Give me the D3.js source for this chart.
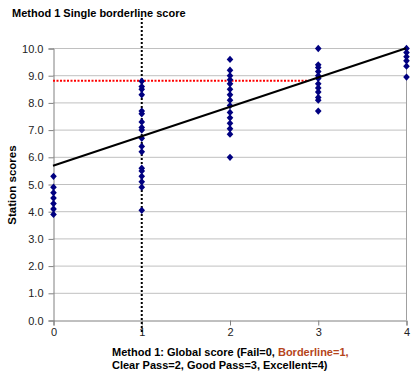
<!DOCTYPE html>
<html><head><meta charset="utf-8">
<script src="https://cdn.jsdelivr.net/npm/d3@7"></script>
<style>body{margin:0;background:#fff}svg{display:block;font-family:"Liberation Sans",Arial,sans-serif}</style>
</head><body><svg id="c" width="419" height="374"></svg>
<script>
const xTicks = [0, 1, 2, 3, 4];
const yTicks = [0, 1, 2, 3, 4, 5, 6, 7, 8, 9, 10];
const scores0 = [5.3, 4.9, 4.7, 4.5, 4.3, 4.1, 3.9];
const scores1 = [8.8, 8.6, 8.5, 8.3, 7.7, 7.6, 7.3, 7.1, 7.0, 6.7, 6.4, 6.2, 5.6, 5.5, 5.3, 5.1, 4.9, 4.05];
const scores2 = [9.6, 9.2, 9.0, 8.85, 8.7, 8.5, 8.3, 8.1, 7.9, 7.65, 7.45, 7.25, 7.05, 6.85, 6.0];
const scores3 = [10.0, 9.4, 9.3, 9.15, 9.0, 8.9, 8.7, 8.55, 8.4, 8.2, 8.1, 7.7];
const scores4 = [10.0, 9.85, 9.7, 9.55, 9.35, 8.95];
const regression = {intercept: 5.67, slope: 1.08};
const borderlineScore = 8.8;
const borderlineGrade = 1;

const groups = [scores0, scores1, scores2, scores3, scores4];
const points = [];
groups.forEach((arr, g) => arr.forEach(v => points.push({x: g, y: v})));

const svg = d3.select("#c");
const L = 53, R = 406, T = 48, B = 320;
const x = d3.scaleLinear().domain([0, 4]).range([L, R]);
const y = d3.scaleLinear().domain([0, 10]).range([B, T]);

// gridlines
svg.append("g").selectAll("line").data(yTicks.filter(d => d > 0)).join("line")
  .attr("x1", L).attr("x2", R).attr("y1", d => y(d) + 0.5).attr("y2", d => y(d) + 0.5)
  .attr("stroke", "#c0c0c0").attr("stroke-width", 1);
// right border
svg.append("line").attr("x1", R + 0.5).attr("x2", R + 0.5).attr("y1", T).attr("y2", B)
  .attr("stroke", "#a0a0a0");

// y axis
const yAxis = d3.axisLeft(y).tickValues(yTicks).tickFormat(d3.format(".1f")).tickSizeOuter(0).tickSize(5).tickPadding(5);
const gy = svg.append("g").attr("transform", `translate(${L + 0.5},0.5)`).call(yAxis);
gy.select(".domain").attr("stroke", "#808080");
gy.selectAll(".tick line").attr("stroke", "#808080");
gy.selectAll("text").attr("font-size", 11).attr("fill", "#222").attr("font-family", "Liberation Sans, Arial, sans-serif");

// x axis
const xAxis = d3.axisBottom(x).tickValues(xTicks).tickFormat(d3.format("d")).tickSizeOuter(0).tickSize(5).tickPadding(3);
const gx = svg.append("g").attr("transform", `translate(0.5,${B + 0.5})`).call(xAxis);
gx.select(".domain").attr("stroke", "#808080");
gx.selectAll(".tick line").attr("stroke", "#808080");
gx.selectAll("text").attr("font-size", 11).attr("fill", "#222").attr("font-family", "Liberation Sans, Arial, sans-serif");

// red dotted borderline score line
const xEnd = (borderlineScore - regression.intercept) / regression.slope;
svg.append("line").attr("x1", x(0)).attr("x2", x(xEnd))
  .attr("y1", y(borderlineScore)).attr("y2", y(borderlineScore))
  .attr("stroke", "#ff0000").attr("stroke-width", 2).attr("stroke-dasharray", "2,1.5");

// vertical dotted line at borderline grade
svg.append("line").attr("x1", x(borderlineGrade) + 0.5).attr("x2", x(borderlineGrade) + 0.5)
  .attr("y1", 18).attr("y2", 332)
  .attr("stroke", "#000").attr("stroke-width", 2).attr("stroke-dasharray", "2,2");

// markers (diamonds)
svg.append("g").selectAll("path").data(points).join("path")
  .attr("d", d3.symbol(d3.symbolSquare, 22))
  .attr("transform", d => `translate(${x(d.x) + 0.5},${y(d.y) + 0.5}) scale(1,1.1) rotate(45)`)
  .attr("fill", "#000080");

// regression line
svg.append("line")
  .attr("x1", x(0)).attr("y1", y(regression.intercept))
  .attr("x2", x(4)).attr("y2", y(regression.intercept + regression.slope * 4))
  .attr("stroke", "#000").attr("stroke-width", 2);

// titles
svg.append("text").attr("x", 12).attr("y", 17).attr("font-size", 11).attr("font-weight", "bold")
  .text("Method 1 Single borderline score");
svg.append("text").attr("transform", "translate(16,185) rotate(-90)").attr("text-anchor", "middle")
  .attr("font-size", 11.5).attr("font-weight", "bold").text("Station scores");
const t1 = svg.append("text").attr("x", 112).attr("y", 356).attr("font-size", 11).attr("font-weight", "bold");
t1.append("tspan").text("Method 1: Global score (Fail=0, ");
t1.append("tspan").attr("fill", "#b5451b").text("Borderline=1,");
svg.append("text").attr("x", 112).attr("y", 369).attr("font-size", 11).attr("font-weight", "bold")
  .text("Clear Pass=2, Good Pass=3, Excellent=4)");
</script></body></html>
